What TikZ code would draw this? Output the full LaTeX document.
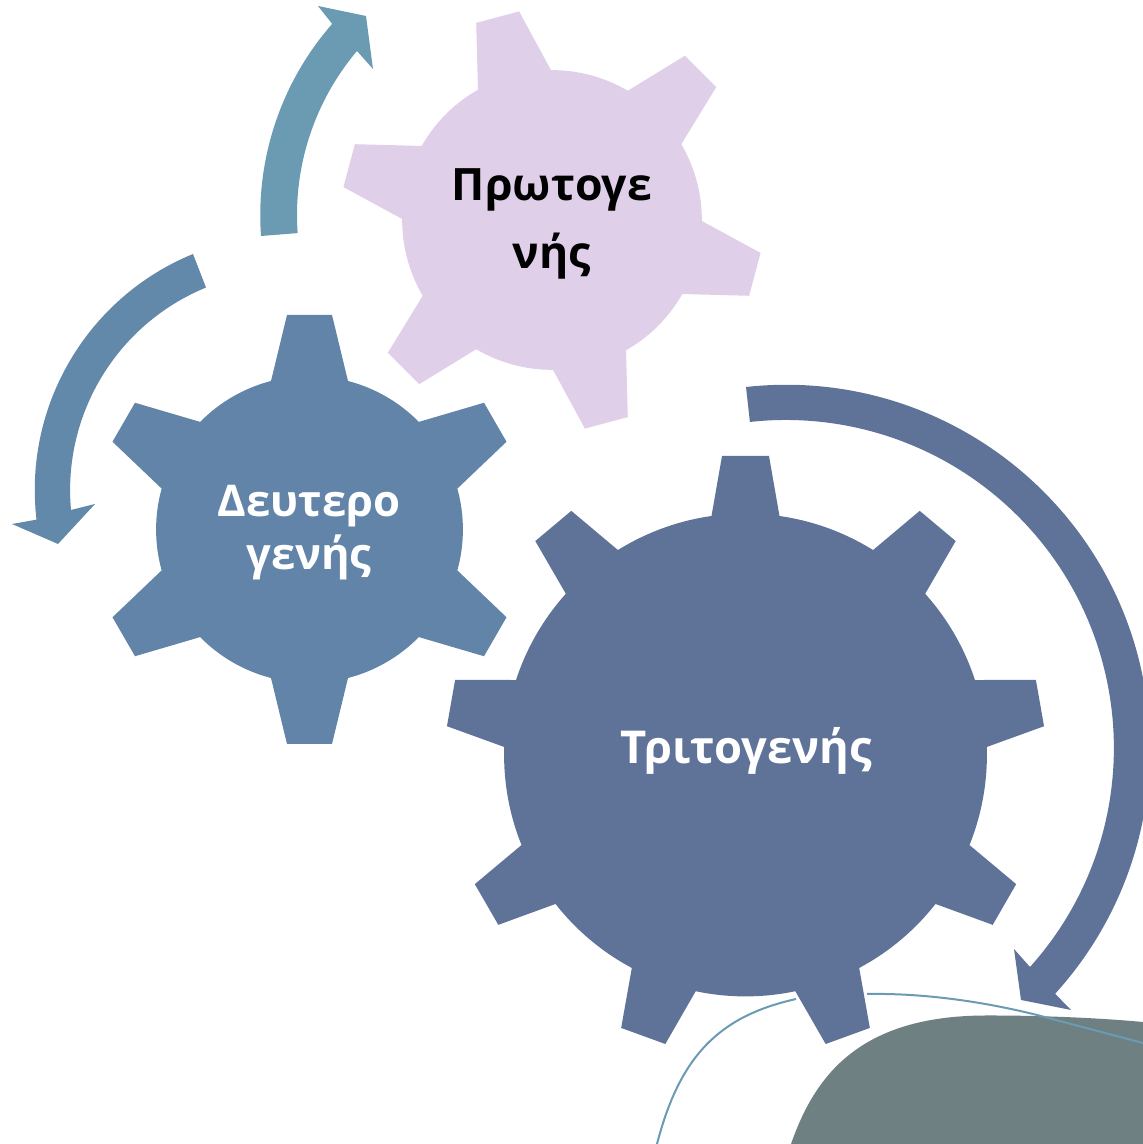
\documentclass[tikz,border=0pt]{standalone}
\usepackage{fontspec}
\newfontfamily\gearfont{Open Sans}
\definecolor{lilac}{HTML}{DFCFE9}
\definecolor{steel}{HTML}{6184A8}
\definecolor{slate}{HTML}{5F7399}
\definecolor{teal}{HTML}{6A9BB3}
\definecolor{arrowleft}{HTML}{6288AA}
\definecolor{blob}{HTML}{6F8082}
\newcommand\gear[9]{%
  \pgfmathsetmacro\gR{veclen(#6,#7)}%
  \pgfmathsetmacro\gH{atan(#7/#6)}%
  \fill[#1,shift={#2}] (#3-\gH:\gR)
    \foreach \k [evaluate=\k as \a using {#3+(\k-1)*#4}] in {1,...,#5} {
      -- ([rotate=\a]#8,-#9) -- ([rotate=\a]#8,#9) -- ([rotate=\a]#6,#7)
      arc[start angle={\a+\gH}, end angle={\a+#4-\gH}, radius=\gR]
    } -- cycle;%
}
\tikzset{
  geartext/.style 2 args={font=\gearfont\bfseries\fontsize{#1}{#2}\selectfont, align=center, inner sep=0pt},
  thinline/.style={teal, line width=2pt}
}
\begin{document}
\begin{tikzpicture}[x=1pt,y=1pt]
\useasboundingbox (0,0) rectangle (1143,1144);
\clip (0,0) rectangle (1143,1144);
% blob and thin lines
\fill[blob] (791,0) .. controls (815,69) and (860,128) .. (985,128.5) .. controls (1040,128.7) and (1100,126) .. (1143,122) -- (1143,0) -- cycle;
\draw[thinline] (657,0) .. controls (680,89) and (720,128) .. (796,145);
\draw[thinline] (867,150) .. controls (925,151) and (985,142) .. (1037,129) -- (1143,101);
% gears
\gear{lilac}{(552,924)}{105}{60}{6}{145}{37.8}{210}{22.2}
\gear{steel}{(309.5,614.5)}{90}{60}{6}{148.5}{38.5}{214.5}{22.5}
\gear{slate}{(745.5,389)}{90}{40}{9}{239}{34}{299}{23.5}
% circular arrows
\fill[teal] (261,908) arc[start angle=184.1, end angle=138.8, radius=290.5]
  -- (318,1138) -- (366,1128) -- (373,1075) -- (357,1093)
  arc[start angle=139.8, end angle=184.1, radius=254] -- cycle;
\fill[arrowleft] (193,890) arc[start angle=112.3, end angle=186.7, radius=255]
  -- (12,620) -- (58,600) -- (95,640) -- (71,634)
  arc[start angle=185.2, end angle=112.3, radius=219] -- cycle;
\fill[slate] (746,757) arc[start angle=96.3, end angle=-42.3, radius=364]
  -- (1071,134) -- (1021,144) -- (1014,195) -- (1030,177)
  arc[start angle=-41.9, end angle=96.3, radius=328] -- cycle;
% labels
\node[geartext={44.6}{68}, text=black] (proto) at (552,920) {Πρωτογε\\νής};
\node[geartext={43.6}{53}, text=white] (deutero) at (309,611) {Δευτερο\\γενής};
\node[geartext={45.3}{53}, text=white] (trito) at (746,393) {Τριτογενής};
\end{tikzpicture}
\end{document}
